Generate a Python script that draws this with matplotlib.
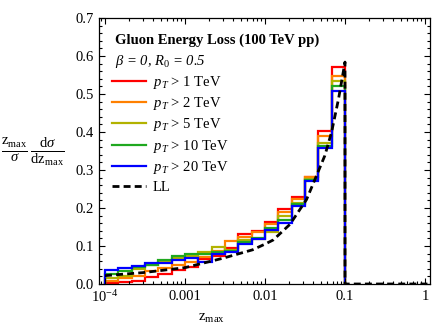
import numpy as np
import matplotlib
matplotlib.use("Agg")
import matplotlib.pyplot as plt
from matplotlib.ticker import FixedLocator, MultipleLocator, NullFormatter, LogLocator, FormatStrFormatter

plt.rcParams['font.family'] = ['Liberation Serif', 'DejaVu Serif']
plt.rcParams['mathtext.fontset'] = 'custom'
plt.rcParams['mathtext.rm'] = 'Liberation Serif'
plt.rcParams['mathtext.it'] = 'Liberation Serif:italic'
plt.rcParams['mathtext.bf'] = 'Liberation Serif:bold'

# 18 log-spaced bins from 1e-4 to 0.1 (6 per decade)
bin_edges = [1e-4 * 10 ** (k / 6) for k in range(19)]

pt1 = [0.003, 0.005, 0.009, 0.018, 0.027, 0.036, 0.045, 0.065, 0.075, 0.095,
       0.132, 0.140, 0.163, 0.198, 0.230, 0.281, 0.402, 0.571]
pt2 = [0.008, 0.015, 0.022, 0.033, 0.042, 0.049, 0.057, 0.072, 0.088, 0.114,
       0.125, 0.137, 0.158, 0.190, 0.225, 0.281, 0.390, 0.547]
pt5 = [0.016, 0.022, 0.040, 0.049, 0.058, 0.068, 0.075, 0.085, 0.097, 0.090,
       0.116, 0.118, 0.138, 0.180, 0.214, 0.276, 0.371, 0.533]
pt10 = [0.027, 0.033, 0.045, 0.050, 0.064, 0.075, 0.078, 0.079, 0.084, 0.086,
        0.110, 0.120, 0.148, 0.169, 0.210, 0.275, 0.364, 0.522]
pt20 = [0.037, 0.043, 0.048, 0.055, 0.054, 0.062, 0.069, 0.057, 0.080, 0.084,
        0.104, 0.119, 0.143, 0.160, 0.204, 0.270, 0.358, 0.507]

ll_z = [1e-4, 3e-4, 1e-3, 3e-3, 7e-3, 0.01, 0.0127, 0.0205, 0.033, 0.040,
        0.056, 0.068, 0.083, 0.1, 0.1, 1.2]
ll_y = [0.022, 0.030, 0.043, 0.068, 0.090, 0.105, 0.116, 0.157, 0.222, 0.264,
        0.338, 0.400, 0.487, 0.584, 0.0, 0.0]

series = [
    (pt1, '#FF0000', r'$p_T$ > 1 TeV'),
    (pt2, '#FF8000', r'$p_T$ > 2 TeV'),
    (pt5, '#B2B200', r'$p_T$ > 5 TeV'),
    (pt10, '#1FA81F', r'$p_T$ > 10 TeV'),
    (pt20, '#0000FF', r'$p_T$ > 20 TeV'),
]

fig = plt.figure(figsize=(4.32, 3.27), dpi=100)
ax = fig.add_axes([99 / 432, 1 - 284 / 327, 331 / 432, 266 / 327])

handles = []
for vals, col, lab in series:
    ax.stairs(vals, bin_edges, baseline=0, fill=False, color=col, lw=1.6)
    h, = ax.plot([], [], color=col, lw=1.6, label=lab)
    handles.append(h)
ll, = ax.plot(ll_z, ll_y, color='black', lw=2.0, ls=(0, (2.5, 1.5)), label='LL', zorder=5)
handles.append(ll)

ax.set_xscale('log')
ax.set_xlim(0.841e-4, 1.155)
ax.set_ylim(0, 0.7)

ax.xaxis.set_major_locator(FixedLocator([1e-4, 1e-3, 1e-2, 1e-1, 1]))
ax.set_xticklabels([r'$10^{-4}$', '0.001', '0.01', '0.1', '1'])
ax.xaxis.set_minor_locator(LogLocator(base=10, subs=np.arange(2, 10)))
ax.xaxis.set_minor_formatter(NullFormatter())
ax.yaxis.set_major_locator(FixedLocator([0, 0.1, 0.2, 0.3, 0.4, 0.5, 0.6, 0.7]))
ax.yaxis.set_major_formatter(FormatStrFormatter('%.1f'))
ax.yaxis.set_minor_locator(MultipleLocator(0.02))
ax.tick_params(which='both', direction='in', top=True, right=True, labelsize=10.5, width=0.8)
ax.tick_params(which='major', length=4)
ax.tick_params(which='minor', length=2)
for s in ax.spines.values():
    s.set_linewidth(0.9)
ax.set_ylim(0, 0.7)

ax.tick_params(axis='x', pad=4)

leg = ax.legend(handles=handles, loc='upper left', bbox_to_anchor=(0.0, 0.84),
                frameon=False, fontsize=10.5, handlelength=2.3, handletextpad=0.5,
                labelspacing=0.3, borderaxespad=0.5)

fig.text(115 / 432, 1 - 40 / 327, 'Gluon Energy Loss (100 TeV pp)', fontsize=10.5,
         fontweight='bold', va='center', ha='left')
fig.text(115 / 432, 1 - 61 / 327, r'$\beta$ = 0, $R_0$ = 0.5', fontsize=10.5,
         style='italic', va='center', ha='left')

fig.text(1 / 432, 1 - 152 / 327,
         r'$\frac{\mathrm{z}_{\max}}{\sigma}\,\frac{\mathrm{d}\sigma}{\mathrm{dz}_{\max}}$',
         fontsize=15, va='center', ha='left')
fig.text(212 / 432, 1 - 318 / 327, r'$\mathrm{z}_{\max}$', fontsize=11,
         va='center', ha='center')

fig.savefig('out.png', dpi=100)
